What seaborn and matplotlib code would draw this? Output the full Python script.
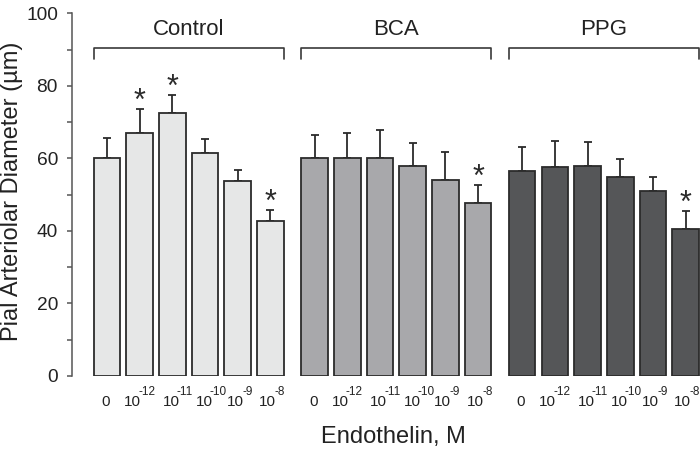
import numpy as np
import pandas as pd
import matplotlib
matplotlib.use("Agg")
import matplotlib.pyplot as plt
import seaborn as sns

# -------------------------------
# Data
# -------------------------------
groups = ["Control", "BCA", "PPG"]
# dose labels: base + exponent ("" = plain zero)
dose_base = ["0", "10", "10", "10", "10", "10"]
dose_exp = ["", "-12", "-11", "-10", "-9", "-8"]

control_mean = [60.0, 67.1, 72.6, 61.5, 53.9, 42.6]
control_err = [5.6, 6.6, 4.9, 3.9, 2.8, 3.2]
bca_mean = [60.2, 60.1, 60.2, 58.0, 54.0, 47.6]
bca_err = [6.3, 7.0, 7.7, 6.2, 7.8, 5.1]
ppg_mean = [56.5, 57.6, 58.0, 54.9, 51.1, 40.4]
ppg_err = [6.5, 7.1, 6.6, 4.8, 3.8, 5.1]

# significance markers (group, dose index)
signif = [("Control", 1), ("Control", 2), ("Control", 5), ("BCA", 5), ("PPG", 5)]

colors = {"Control": "#e6e7e7", "BCA": "#a7a8ab", "PPG": "#555658"}

# -------------------------------
# Build table
# -------------------------------
group_step = 6.35
means = {"Control": control_mean, "BCA": bca_mean, "PPG": ppg_mean}
errs = {"Control": control_err, "BCA": bca_err, "PPG": ppg_err}
rows = []
for g, name in enumerate(groups):
    for i in range(len(dose_base)):
        rows.append({"group": name, "dose": i, "pos": g * group_step + i,
                     "mean": means[name][i], "err": errs[name][i]})
df = pd.DataFrame(rows)

# -------------------------------
# Plot
# -------------------------------
sns.set_style("ticks")
plt.rcParams["font.family"] = ["Liberation Sans", "DejaVu Sans"]
txt = "#222222"

fig = plt.figure(figsize=(7, 4.51), dpi=100)
ax = fig.add_axes([72 / 700, 1 - 376 / 451, 628 / 700, (376 - 13.3) / 451])

bw = 0.816
sns.barplot(data=df, x="pos", y="mean", hue="group", palette=colors,
            native_scale=True, dodge=False, width=bw, errorbar=None,
            edgecolor="#2b2b2b", linewidth=1.3, legend=False, ax=ax, zorder=3)

ax.errorbar(df["pos"], df["mean"], yerr=[np.zeros(len(df)), df["err"]],
            fmt="none", ecolor="#2b2b2b", elinewidth=1.3, capsize=3,
            capthick=1.3, zorder=2)

# asterisks
for name, i in signif:
    r = df[(df["group"] == name) & (df["dose"] == i)].iloc[0]
    ax.text(r["pos"], r["mean"] + r["err"] - 0.3, "*", ha="center",
            va="baseline", fontsize=22, color="#2b2b2b")

# group brackets + labels
for g, name in enumerate(groups):
    x0 = g * group_step - bw / 2
    x1 = g * group_step + 5 + bw / 2
    ax.plot([x0, x0, x1, x1], [87.3, 90.5, 90.5, 87.3], color="#3a3a3a",
            lw=1.2, clip_on=False)
    ax.text((x0 + x1) / 2, 94.0, name, ha="center", va="baseline",
            fontsize=16, color=txt)

# x tick labels: "10" with small raised exponent (hand-set nudges, in points)
base_nudge = [-1.0, 1.0, 5.2, 5.6, 4.3, 4.0]
xtr = ax.get_xaxis_transform()
for _, r in df.iterrows():
    d = r["dose"]
    if dose_exp[d] == "":
        ax.annotate(dose_base[d], (r["pos"], 0), xycoords=xtr,
                    xytext=(base_nudge[d], -21.8), textcoords="offset points",
                    ha="center", va="baseline", fontsize=11, color=txt)
    else:
        ax.annotate(dose_base[d], (r["pos"], 0), xycoords=xtr,
                    xytext=(base_nudge[d], -21.8), textcoords="offset points",
                    ha="right", va="baseline", fontsize=11, color=txt)
        overlap = 2.2 if len(dose_exp[d]) > 2 else 1.1
        ax.annotate(dose_exp[d], (r["pos"], 0), xycoords=xtr,
                    xytext=(base_nudge[d] - overlap, -13.8),
                    textcoords="offset points", ha="left", va="baseline",
                    fontsize=8.5, color=txt)

ax.set_xlim(-1.07, 18.14)
ax.set_ylim(0, 100)
ax.set_xticks([])
ax.set_yticks(np.arange(0, 101, 20))
ax.set_yticks(np.arange(10, 100, 20), minor=True)
ax.tick_params(axis="y", which="major", length=3.6, width=1.1, labelsize=13.8,
               pad=6.5, colors=txt, color="#555555")
ax.tick_params(axis="y", which="minor", length=3.6, width=1.1, color="#555555")

sns.despine(ax=ax, bottom=True)
ax.spines["left"].set_linewidth(1.1)
ax.spines["left"].set_color("#555555")

ax.set_ylabel("Pial Arteriolar Diameter (µm)", fontsize=17, color=txt)
ax.yaxis.label.set_va("baseline")
ax.yaxis.set_label_coords(-0.086, 0.509)
ax.set_xlabel("Endothelin, M", fontsize=17, color=txt)
ax.xaxis.label.set_va("baseline")
ax.xaxis.set_label_coords(0.512, -0.1856)

fig.savefig("out.png", dpi=100)
